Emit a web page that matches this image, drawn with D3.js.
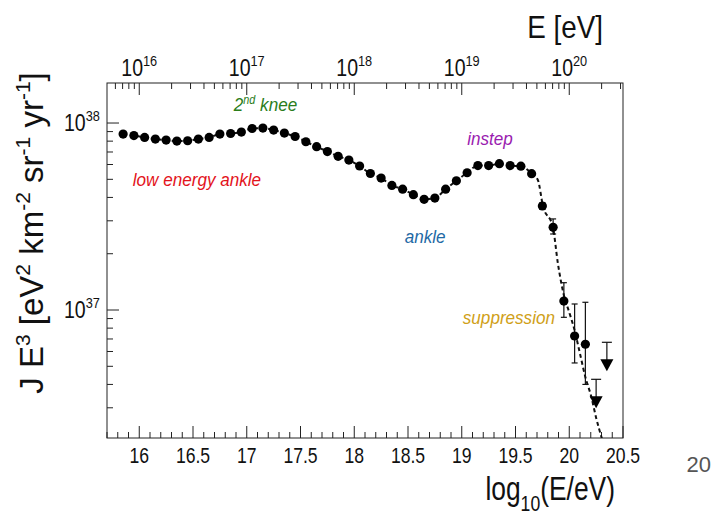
<!DOCTYPE html>
<html>
<head>
<meta charset="utf-8">
<script src="https://cdn.jsdelivr.net/npm/d3@7"></script>
<style>
  body { margin: 0; background: #fff; }
  text { font-family: "Liberation Sans", Arial, sans-serif; }
</style>
</head>
<body>
<svg id="chart" width="716" height="523"></svg>
<script>
// Energy bins, log10(E/eV)
const binLogE = [15.85, 15.95, 16.05, 16.15, 16.25, 16.35, 16.45, 16.55, 16.65, 16.75,
                 16.85, 16.95, 17.05, 17.15, 17.25, 17.35, 17.45, 17.55, 17.65, 17.75,
                 17.85, 17.95, 18.05, 18.15, 18.25, 18.35, 18.45, 18.55, 18.65, 18.75,
                 18.85, 18.95, 19.05, 19.15, 19.25, 19.35, 19.45, 19.55, 19.65, 19.75,
                 19.85, 19.95, 20.05, 20.15];
// J E^3 in units of 1e37 eV^2 km^-2 sr^-1 yr^-1
const fluxE3 = [8.73, 8.57, 8.37, 8.21, 8.11, 8.01, 8.04, 8.21, 8.37, 8.73,
                8.79, 8.95, 9.35, 9.40, 9.17, 8.84, 8.47, 7.94, 7.47, 7.04,
                6.64, 6.34, 5.89, 5.37, 5.08, 4.64, 4.43, 4.14, 3.91, 3.97,
                4.43, 4.91, 5.42, 5.92, 5.92, 6.06, 5.92, 5.88, 5.36, 3.60,
                2.77, 1.117, 0.726, 0.656];
// visible error bars at the highest energies
const errLogE = [19.75, 19.85, 19.95, 20.05, 20.15];
const errHigh = [3.75, 3.07, 1.40, 1.077, 1.10];
const errLow  = [3.45, 2.55, 0.914, 0.521, 0.40];
// upper limits
const ulLogE = [20.25, 20.35];
const ulFlux = [0.426, 0.672];
// fitted spectrum beyond the last plateau bin
const fitTailLogE = [19.708, 19.755, 19.848, 19.894, 19.950, 20.003, 20.049, 20.096, 20.149, 20.205, 20.251, 20.303];
const fitTailFlux = [4.96, 3.61, 2.77, 1.78, 1.20, 0.96, 0.782, 0.598, 0.440, 0.344, 0.264, 0.206];
// axis ticks
const xTickLabels = ["16", "16.5", "17", "17.5", "18", "18.5", "19", "19.5", "20", "20.5"];
const topExponents = [16, 17, 18, 19, 20];
const yExponents = [37, 38];
// annotations (anchor at start of baseline)
const notes = [
  { text: "low energy ankle", color: "#e3131b", logE: 15.94, val: 4.60 },
  { text: "ankle", color: "#1f6aa5", logE: 18.47, val: 2.28 },
  { text: "instep", color: "#9a1caf", logE: 19.05, val: 7.63 },
  { text: "suppression", color: "#d0a018", logE: 19.01, val: 0.842 }
];
const kneeNote = { logE: 16.88, val: 11.6, color: "#2b7d1b" };

const U = 1e37;
const L = 107, R = 623, T = 83, B = 438;

const svg = d3.select("#chart");
const x = d3.scaleLinear().domain([15.7, 20.5]).range([L, R]);
const xTop = d3.scaleLog().domain([Math.pow(10, 15.7), Math.pow(10, 20.5)]).range([L, R]);
const y = d3.scaleLog().domain([2.068e36, 1.637e38]).range([B, T]);

const ink = "#222";
const isDecade = d => Math.abs(Math.log10(d) - Math.round(Math.log10(d))) < 1e-9;

// text helper: narrow glyphs via a horizontal scale
function label(parent, px, py, size, sx, anchor) {
  return parent.append("text")
    .attr("transform", `translate(${px},${py}) scale(${sx},1)`)
    .attr("text-anchor", anchor || "start")
    .attr("font-size", size).attr("fill", "#111");
}

// frame
svg.append("rect").attr("x", L).attr("y", T).attr("width", R - L).attr("height", B - T)
  .attr("fill", "none").attr("stroke", ink).attr("stroke-width", 1);

// bottom axis ticks (inside)
const bottomTicks = d3.range(157, 206).map(d => d / 10);
svg.append("g").selectAll("line").data(bottomTicks).join("line")
  .attr("x1", d => x(d)).attr("x2", d => x(d))
  .attr("y1", B)
  .attr("y2", d => (Math.round(d * 10) % 5 === 0) ? B - 12 : B - 6)
  .attr("stroke", ink);
const gBot = svg.append("g");
xTickLabels.forEach(t => label(gBot, x(+t), 463, 22, 0.8, "middle").text(t));

// top axis (energy in eV), ticks pointing down
svg.append("g").selectAll("line").data(xTop.ticks()).join("line")
  .attr("x1", d => xTop(d)).attr("x2", d => xTop(d))
  .attr("y1", T)
  .attr("y2", d => isDecade(d) ? T + 12 : T + 6)
  .attr("stroke", ink);
const gTop = svg.append("g");
topExponents.forEach(e => {
  const t = label(gTop, xTop(Math.pow(10, e)), 76, 23, 0.85, "middle");
  t.append("tspan").text("10");
  t.append("tspan").attr("dy", -10).attr("font-size", 15).text(e);
});

// left axis ticks
svg.append("g").selectAll("line").data(y.ticks()).join("line")
  .attr("x1", L)
  .attr("x2", d => isDecade(d) ? L + 12 : L + 6)
  .attr("y1", d => y(d)).attr("y2", d => y(d))
  .attr("stroke", ink);
const gLeft = svg.append("g");
yExponents.forEach(e => {
  const t = label(gLeft, 64, y(Math.pow(10, e)) + 8, 23, 0.85, "start");
  t.append("tspan").text("10");
  t.append("tspan").attr("dy", -10).attr("font-size", 15).text(e);
});

// axis titles
const yt = svg.append("text")
  .attr("transform", "translate(43,233) rotate(-90)")
  .attr("text-anchor", "middle").attr("font-size", 33).attr("fill", "#111");
[["J E", 0], ["3", 1], [" [eV", 0], ["2", 1], [" km", 0], ["-2", 1],
 [" sr", 0], ["-1", 1], [" yr", 0], ["-1", 1], ["]", 0]].forEach(([s, sup], i) => {
  const ts = yt.append("tspan").text(s);
  if (sup) ts.attr("dy", -13).attr("font-size", 21);
  else if (i > 0) ts.attr("dy", 13);
});

const xt = label(svg, 615, 500, 33, 0.8, "end");
xt.append("tspan").text("log");
xt.append("tspan").attr("dy", 11).attr("font-size", 22).text("10");
xt.append("tspan").attr("dy", -11).text("(E/eV)");

label(svg, 603, 38, 32, 0.87, "end").text("E [eV]");

// page number
svg.append("text").attr("x", 711).attr("y", 472).attr("text-anchor", "end")
  .attr("font-size", 22).attr("fill", "#555").text("20");

// clip to plot area
svg.append("clipPath").attr("id", "plotClip").append("rect")
  .attr("x", L).attr("y", T).attr("width", R - L).attr("height", B - T);
const plot = svg.append("g").attr("clip-path", "url(#plotClip)");

// dashed fit curve
const plateauCount = binLogE.findIndex(v => v > 19.7);
const fitPts = binLogE.slice(0, plateauCount).map((v, i) => [v, fluxE3[i]])
  .concat(fitTailLogE.map((v, i) => [v, fitTailFlux[i]]));
plot.append("path").datum(fitPts)
  .attr("d", d3.line().x(d => x(d[0])).y(d => y(d[1] * U)).curve(d3.curveMonotoneX))
  .attr("fill", "none").attr("stroke", "#111").attr("stroke-width", 2)
  .attr("stroke-dasharray", "4,3");

// error bars
const eb = plot.append("g").selectAll("g").data(errLogE).join("g");
eb.append("line")
  .attr("x1", d => x(d)).attr("x2", d => x(d))
  .attr("y1", (d, i) => y(errHigh[i] * U)).attr("y2", (d, i) => y(errLow[i] * U))
  .attr("stroke", "#111").attr("stroke-width", 1.2);
[errHigh, errLow].forEach(arr => {
  eb.append("line")
    .attr("x1", d => x(d) - 3).attr("x2", d => x(d) + 3)
    .attr("y1", (d, i) => y(arr[i] * U)).attr("y2", (d, i) => y(arr[i] * U))
    .attr("stroke", "#111").attr("stroke-width", 1.2);
});

// data points
plot.append("g").selectAll("circle").data(binLogE).join("circle")
  .attr("cx", d => x(d)).attr("cy", (d, i) => y(fluxE3[i] * U))
  .attr("r", 4.6).attr("fill", "#000");

// upper limits
const ul = plot.append("g").selectAll("g").data(ulLogE).join("g");
ul.append("line")
  .attr("x1", d => x(d) - 5).attr("x2", d => x(d) + 5)
  .attr("y1", (d, i) => y(ulFlux[i] * U)).attr("y2", (d, i) => y(ulFlux[i] * U))
  .attr("stroke", "#111").attr("stroke-width", 1.2);
ul.append("line")
  .attr("x1", d => x(d)).attr("x2", d => x(d))
  .attr("y1", (d, i) => y(ulFlux[i] * U)).attr("y2", (d, i) => y(ulFlux[i] * U) + 18)
  .attr("stroke", "#111").attr("stroke-width", 1.2);
ul.append("path")
  .attr("d", (d, i) => {
    const cx = x(d), top = y(ulFlux[i] * U) + 17;
    return `M${cx - 6.5},${top}L${cx + 6.5},${top}L${cx},${top + 12}Z`;
  })
  .attr("fill", "#000");

// annotations
const gNotes = svg.append("g");
notes.forEach(n => {
  label(gNotes, x(n.logE), y(n.val * U), 19, 0.9, "start")
    .attr("font-style", "italic").attr("fill", n.color).text(n.text);
});
const knee = label(gNotes, x(kneeNote.logE), y(kneeNote.val * U), 19, 0.9, "start")
  .attr("font-style", "italic").attr("fill", kneeNote.color);
knee.append("tspan").text("2");
knee.append("tspan").attr("dy", -7).attr("font-size", 12).text("nd");
knee.append("tspan").attr("dy", 7).text(" knee");
</script>
</body>
</html>
